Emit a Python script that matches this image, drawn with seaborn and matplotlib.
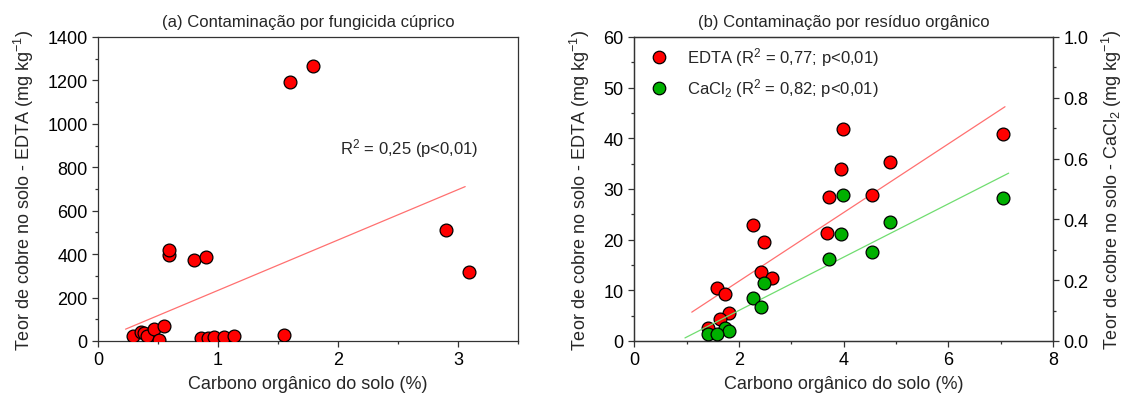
import numpy as np
import pandas as pd
import matplotlib
matplotlib.use("Agg")
import matplotlib.pyplot as plt
from matplotlib.ticker import MultipleLocator
from matplotlib.lines import Line2D
import seaborn as sns

# (a) fungicide contamination: organic carbon (%) vs Cu EDTA (mg/kg)
carbon_a = [0.29, 0.36, 0.38, 0.41, 0.47, 0.51, 0.55, 0.59, 0.59, 0.80, 0.90,
            0.86, 0.92, 0.97, 1.05, 1.13, 1.55, 1.60, 1.79, 2.90, 3.09]
edta_a = [25, 43, 35, 25, 55, 6, 71, 396, 421, 373, 385,
          12, 12, 18, 18, 25, 28, 1194, 1265, 511, 316]
fit_a = [1.0, 232.0]          # intercept, slope
fit_range_a = [0.23, 3.06]

# (b) organic residue contamination
carbon_b_edta = [3.99, 7.05, 4.89, 3.94, 3.72, 4.55, 3.68, 2.26, 2.48, 2.42,
                 2.63, 1.58, 1.73, 1.81, 1.63, 1.41]
edta_b = [41.8, 40.8, 35.3, 33.9, 28.4, 28.8, 21.3, 22.9, 19.5, 13.7,
          12.4, 10.4, 9.2, 5.5, 4.3, 2.5]
carbon_b_cacl = [3.99, 7.05, 4.89, 3.94, 4.55, 3.72, 2.48, 2.26, 2.42,
                 1.73, 1.82, 1.41, 1.58]
cacl_b = [0.481, 0.470, 0.390, 0.352, 0.292, 0.270, 0.191, 0.142, 0.113,
          0.044, 0.033, 0.023, 0.023]
fit_b_edta = [-1.77, 6.78]
fit_range_b_edta = [1.10, 7.08]
fit_b_cacl = [-0.075, 0.0877]
fit_range_b_cacl = [0.97, 7.15]

sns.set_style("ticks")
plt.rcParams['font.family'] = ['Liberation Sans', 'DejaVu Sans']
plt.rcParams['mathtext.fontset'] = 'custom'
plt.rcParams['mathtext.rm'] = 'Liberation Sans'
plt.rcParams['mathtext.it'] = 'Liberation Sans:italic'
plt.rcParams['axes.edgecolor'] = '#333333'
plt.rcParams['axes.linewidth'] = 0.9
for k in ['xtick', 'ytick']:
    plt.rcParams[f'{k}.direction'] = 'out'
    plt.rcParams[f'{k}.major.size'] = 4
    plt.rcParams[f'{k}.minor.size'] = 2.5
    plt.rcParams[f'{k}.major.width'] = 0.9
    plt.rcParams[f'{k}.minor.width'] = 0.9
    plt.rcParams[f'{k}.color'] = '#333333'
    plt.rcParams[f'{k}.labelsize'] = 13
    plt.rcParams[f'{k}.labelcolor'] = 'black'

RED = '#ff0000'
GREEN = '#00b000'
marker_kw = dict(s=85, edgecolor='black', linewidth=0.9, zorder=3)
title_font = dict(fontsize=12, family=['Liberation Sans Narrow', 'Liberation Sans', 'DejaVu Sans'])

fig = plt.figure(figsize=(11.31, 4.10), dpi=100)
ax1 = fig.add_axes([0.0866, 0.1659, 0.3714, 0.7415])
ax2 = fig.add_axes([0.5607, 0.1659, 0.3705, 0.7415])

# ---- panel (a)
df_a = pd.DataFrame({'carbon': carbon_a, 'edta': edta_a})
xa = np.linspace(*fit_range_a, 50)
sns.lineplot(x=xa, y=fit_a[0] + fit_a[1] * xa, ax=ax1, color='#ff7070', lw=0.9, zorder=2)
sns.scatterplot(data=df_a, x='carbon', y='edta', ax=ax1, color=RED, **marker_kw)
ax1.set_xlim(0, 3.5)
ax1.set_ylim(0, 1400)
ax1.xaxis.set_major_locator(MultipleLocator(1))
ax1.xaxis.set_minor_locator(MultipleLocator(0.5))
ax1.yaxis.set_major_locator(MultipleLocator(200))
ax1.yaxis.set_minor_locator(MultipleLocator(100))
ax1.set_xlabel('Carbono orgânico do solo (%)', fontsize=13, labelpad=5)
ax1.set_ylabel('Teor de cobre no solo - EDTA (mg kg$^{-1}$)', fontsize=13, labelpad=8)
ax1.set_title('(a) Contaminação por fungicida cúprico', pad=8, **title_font)
ax1.text(2.02, 893, 'R$^2$ = 0,25 (p<0,01)', fontsize=12, va='center', ha='left')

# ---- panel (b)
df_b1 = pd.DataFrame({'carbon': carbon_b_edta, 'teor': edta_b})
df_b2 = pd.DataFrame({'carbon': carbon_b_cacl, 'teor': cacl_b})
ax2b = ax2.twinx()
xb1 = np.linspace(*fit_range_b_edta, 50)
xb2 = np.linspace(*fit_range_b_cacl, 50)
sns.lineplot(x=xb1, y=fit_b_edta[0] + fit_b_edta[1] * xb1, ax=ax2, color='#ff7070', lw=0.9, zorder=2)
sns.scatterplot(data=df_b1, x='carbon', y='teor', ax=ax2, color=RED, **marker_kw)
sns.lineplot(x=xb2, y=fit_b_cacl[0] + fit_b_cacl[1] * xb2, ax=ax2b, color='#70dd70', lw=0.9, zorder=2)
sns.scatterplot(data=df_b2, x='carbon', y='teor', ax=ax2b, color=GREEN, **marker_kw)

ax2.set_xlim(0, 8)
ax2.set_ylim(0, 60)
ax2b.set_ylim(0, 1.0)
ax2.xaxis.set_major_locator(MultipleLocator(2))
ax2.xaxis.set_minor_locator(MultipleLocator(1))
ax2.yaxis.set_major_locator(MultipleLocator(10))
ax2.yaxis.set_minor_locator(MultipleLocator(5))
ax2b.yaxis.set_major_locator(MultipleLocator(0.2))
ax2b.yaxis.set_minor_locator(MultipleLocator(0.1))
ax2b.yaxis.set_major_formatter(matplotlib.ticker.FormatStrFormatter('%.1f'))
ax2.set_xlabel('Carbono orgânico do solo (%)', fontsize=13, labelpad=5)
ax2.set_ylabel('Teor de cobre no solo - EDTA (mg kg$^{-1}$)', fontsize=13, labelpad=8)
ax2b.set_ylabel('Teor de cobre no solo - CaCl$_2$ (mg kg$^{-1}$)', fontsize=13, labelpad=8)
ax2.set_title('(b) Contaminação por resíduo orgânico', pad=8, **title_font)
ax2b.tick_params(axis='y', which='both', direction='out')

handles = [
    Line2D([], [], ls='', marker='o', ms=9, mfc=RED, mec='black', mew=0.9),
    Line2D([], [], ls='', marker='o', ms=9, mfc=GREEN, mec='black', mew=0.9),
]
labels = ['EDTA (R$^2$ = 0,77; p<0,01)', 'CaCl$_2$ (R$^2$ = 0,82; p<0,01)']
ax2b.legend(handles, labels, loc='upper left', frameon=False, fontsize=12,
            handletextpad=0.7, borderaxespad=0.1, labelspacing=0.5,
            bbox_to_anchor=(0.0, 1.0))

for ax in (ax1, ax2, ax2b):
    for sp in ax.spines.values():
        sp.set_visible(True)

fig.savefig('out.png', dpi=100)
